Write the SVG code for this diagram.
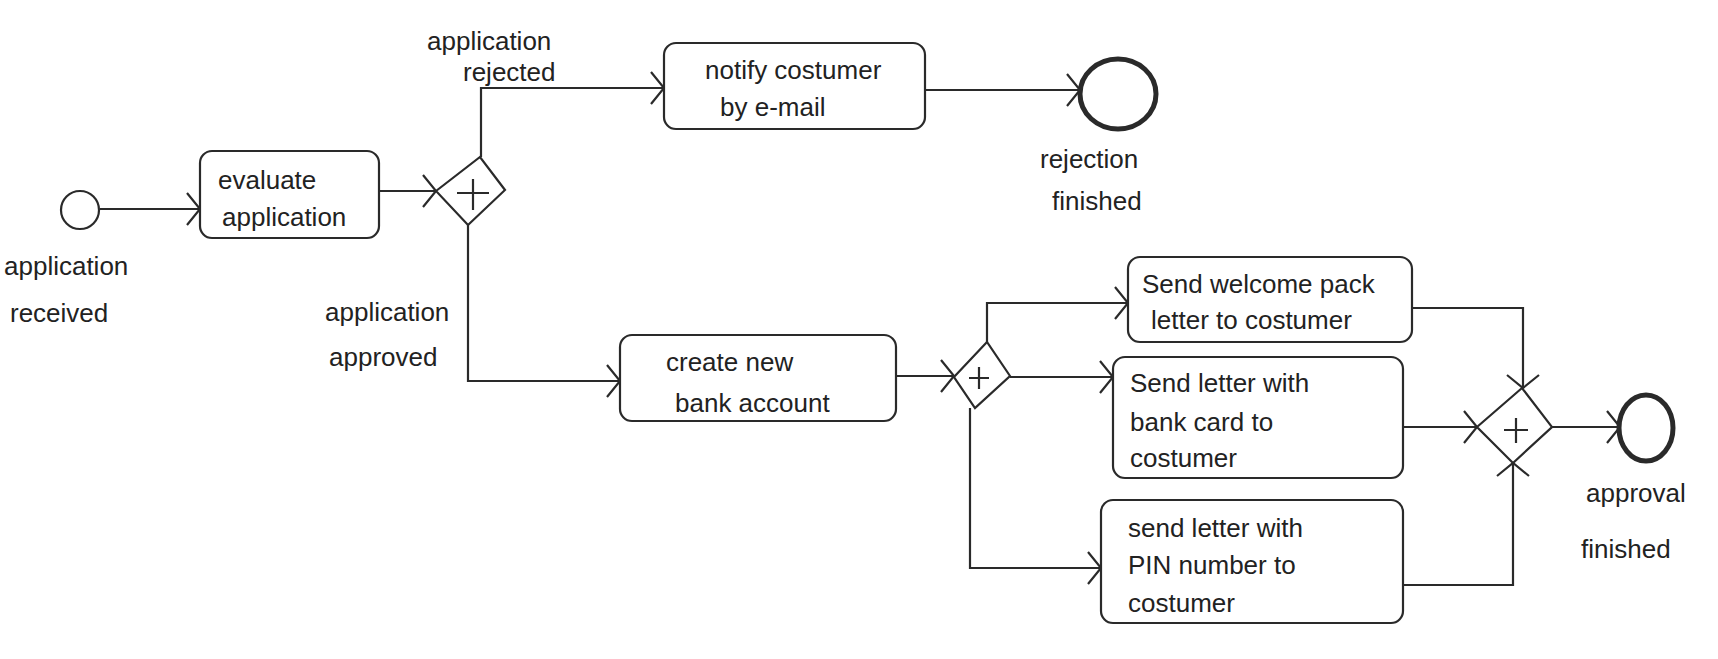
<svg xmlns="http://www.w3.org/2000/svg" width="1718" height="659" viewBox="0 0 1718 659">
<style>
.t{font-family:"Liberation Sans","DejaVu Sans",sans-serif;font-size:26px;fill:#222}
.task{fill:#fff;stroke:#2a2a2a;stroke-width:2.2}
.gw{fill:#fff;stroke:#2a2a2a;stroke-width:2.2}
.plus{stroke:#2a2a2a;stroke-width:2.2;fill:none}
.ev{fill:#fff;stroke:#2a2a2a}
.c{fill:none;stroke:#2a2a2a;stroke-width:2.2;marker-end:url(#arr)}
</style>
<defs>
<marker id="arr" markerUnits="userSpaceOnUse" viewBox="0 -18 16 36" refX="14" refY="0" markerWidth="16" markerHeight="36" orient="auto">
<path d="M1,-16 L14,0 L1,16" fill="none" stroke="#2a2a2a" stroke-width="2.2"/>
</marker>
</defs>
<rect width="1718" height="659" fill="#fff"/>
<g id="connectors">
<path class="c" d="M100 209 L200 209"/>
<path class="c" d="M379 191 L436 191"/>
<path class="c" d="M481 157 L481 88 L664 88"/>
<path class="c" d="M925 90 L1080 90"/>
<path class="c" d="M468 225 L468 381 L620 381"/>
<path class="c" d="M896 376 L954 376"/>
<path class="c" d="M987 342 L987 303 L1128 303"/>
<path class="c" d="M1010 377 L1113 377"/>
<path class="c" d="M970 408 L970 568 L1101 568"/>
<path class="c" d="M1412 308 L1523 308 L1523 388"/>
<path class="c" d="M1403 427 L1477 427"/>
<path class="c" d="M1403 585 L1513 585 L1513 463"/>
<path class="c" d="M1552 427 L1620 427"/>
</g>
<g id="start">
<circle class="ev" cx="80" cy="210" r="19" stroke-width="2.2"/>
<text class="t" x="4" y="275">application</text>
<text class="t" x="10" y="322">received</text>
</g>
<g id="evaluate">
<rect class="task" x="200" y="151" width="179" height="87" rx="12"/>
<text class="t" x="218" y="189">evaluate</text>
<text class="t" x="222" y="226">application</text>
</g>
<g id="gw1">
<polygon class="gw" points="436,191 480,157 505,190 468,225"/>
<path class="plus" d="M457 193 L489 193 M473 179 L473 210"/>
</g>
<g id="label-rejected">
<text class="t" x="427" y="50">application</text>
<text class="t" x="463" y="81">rejected</text>
</g>
<g id="label-approved">
<text class="t" x="325" y="321">application</text>
<text class="t" x="329" y="366">approved</text>
</g>
<g id="notify">
<rect class="task" x="664" y="43" width="261" height="86" rx="12"/>
<text class="t" x="705" y="79">notify costumer</text>
<text class="t" x="720" y="116">by e-mail</text>
</g>
<g id="end-rejection">
<ellipse class="ev" cx="1118" cy="94" rx="38" ry="35" stroke-width="5"/>
<text class="t" x="1040" y="168">rejection</text>
<text class="t" x="1052" y="210">finished</text>
</g>
<g id="create">
<rect class="task" x="620" y="335" width="276" height="86" rx="12"/>
<text class="t" x="666" y="371">create new</text>
<text class="t" x="675" y="412">bank account</text>
</g>
<g id="gw2">
<polygon class="gw" points="954,377 987,342 1010,376 975,408"/>
<path class="plus" d="M969 378 L989 378 M979 367 L979 389"/>
</g>
<g id="welcome">
<rect class="task" x="1128" y="257" width="284" height="85" rx="12"/>
<text class="t" x="1142" y="293">Send welcome pack</text>
<text class="t" x="1151" y="329">letter to costumer</text>
</g>
<g id="bankcard">
<rect class="task" x="1113" y="357" width="290" height="121" rx="12"/>
<text class="t" x="1130" y="392">Send letter with</text>
<text class="t" x="1130" y="431">bank card to</text>
<text class="t" x="1130" y="467">costumer</text>
</g>
<g id="pin">
<rect class="task" x="1101" y="500" width="302" height="123" rx="12"/>
<text class="t" x="1128" y="537">send letter with</text>
<text class="t" x="1128" y="574">PIN number to</text>
<text class="t" x="1128" y="612">costumer</text>
</g>
<g id="gw3">
<polygon class="gw" points="1477,427 1522,388 1552,427 1513,463"/>
<path class="plus" d="M1504 430 L1528 430 M1516 418 L1516 443"/>
</g>
<g id="end-approval">
<ellipse class="ev" cx="1646" cy="428" rx="27" ry="33" stroke-width="5"/>
<text class="t" x="1586" y="502">approval</text>
<text class="t" x="1581" y="558">finished</text>
</g>
</svg>
